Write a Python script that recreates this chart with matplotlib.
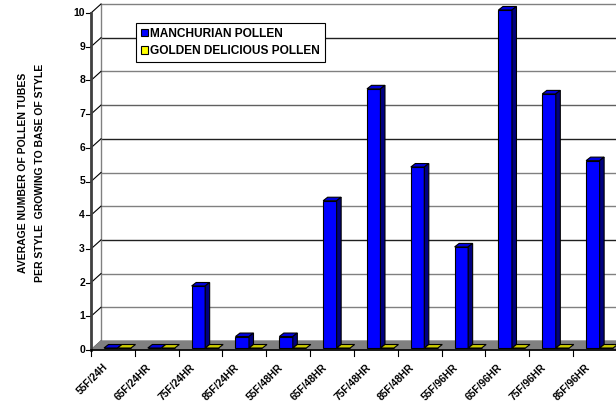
import matplotlib
matplotlib.use('Agg')
import matplotlib.pyplot as plt
from matplotlib.patches import Patch

# data
categories = ['55F/24H', '65F/24HR', '75F/24HR', '85F/24HR', '55F/48HR', '65F/48HR',
              '75F/48HR', '85F/48HR', '55F/96HR', '65F/96HR', '75F/96HR', '85F/96HR']
manchurian = [0, 0, 1.84, 0.34, 0.34, 4.37, 7.69, 5.37, 3.0, 10.03, 7.54, 5.56]
golden = [0, 0, 0, 0, 0, 0, 0, 0, 0, 0, 0, 0]
series_names = ['MANCHURIAN POLLEN', 'GOLDEN DELICIOUS POLLEN']
yticks = [0, 1, 2, 3, 4, 5, 6, 7, 8, 9, 10]
ylabel_lines = ['AVERAGE NUMBER OF POLLEN TUBES', 'PER STYLE  GROWING TO BASE OF STYLE']

plt.rcParams['font.family'] = ['Liberation Sans', 'DejaVu Sans']
plt.rcParams['font.weight'] = 'bold'

W, H = 616, 401
fig = plt.figure(figsize=(W / 100, H / 100), dpi=100)
ax = fig.add_axes([0, 0, 1, 1])
ax.axis('off')

# pixel geometry of the fake 3d plot
x0_px, y0_px = 91, 350          # front origin (pixels from left / top)
sx, sy = 43.83, 33.7            # pixels per category / per unit
ax.set_xlim(-x0_px / sx, (W - x0_px) / sx)
ax.set_ylim(-(H - y0_px) / sy, y0_px / sy)

dx, dy = 10 / sx, 9 / sy        # depth of the wall
n = len(categories)
ymax = 10

# back wall
ax.fill([dx, n + dx, n + dx, dx], [dy, dy, ymax + dy, ymax + dy], color='white', zorder=1)
grid_colors = ['#808080', '#808080', '#202020', '#808080', '#808080', '#202020',
               '#606060', '#808080', '#202020', '#808080']
for v, c in zip(yticks[1:], grid_colors):
    ax.plot([dx, n + dx], [v + dy, v + dy], color=c, lw=1.0, zorder=2)
ax.plot([dx, dx], [dy, ymax + dy], color='#808080', lw=1.0, zorder=2)

# left side connectors and axis
for v in yticks:
    ax.plot([0, dx], [v, v + dy], color='black', lw=0.8, zorder=2)
    ax.plot([-5 / sx, 0], [v, v], color='black', lw=0.8, zorder=3)
    ax.text(-6 / sx, v, str(v), ha='right', va='center', fontsize=7.5, fontweight='bold')
ax.plot([0, 0], [0, ymax], color='#404040', lw=2, zorder=3)

# floor
ax.fill([0, n, n + dx, dx], [0, 0, dy, dy], color='#808080', zorder=2)
ax.plot([0, n], [0, 0], color='black', lw=1.2, zorder=3)
for k in range(n + 1):
    ax.plot([k, k], [0, -6 / sy], color='black', lw=0.8, zorder=3)
for k, lab in enumerate(categories):
    ax.text(k + 0.42, -0.36, lab, rotation=45, ha='right', va='top', fontsize=7.4,
            fontweight='bold')

# bars
bw = 13.5 / sx
off = 12 / sx
bx, by = 1 / sx, 2 / sy            # bar sits slightly behind the front edge
ddx, ddy = 4.5 / sx, 3.5 / sy       # bar depth
styles = [('#0000ff', '#000080', '#0000dd'), ('#ffff00', '#808000', '#cccc00')]
for s, vals in enumerate([manchurian, golden]):
    front, side, top = styles[s]
    lefts = [k + off + s * bw + bx for k in range(n)]
    ax.bar(lefts, vals, width=bw, bottom=by, align='edge', color=front,
           edgecolor='black', linewidth=0.8, zorder=5)
    for l, v in zip(lefts, vals):
        t = by + v
        ax.fill([l, l + ddx, l + bw + ddx, l + bw], [t, t + ddy, t + ddy, t],
                facecolor=top, edgecolor='black', lw=0.8, zorder=5)
        if v > 0:
            ax.fill([l + bw, l + bw + ddx, l + bw + ddx, l + bw],
                    [by, by + ddy, t + ddy, t],
                    facecolor=side, edgecolor='black', lw=0.8, zorder=5)

# y label (two lines)
ax.text(-1.551, 5.25, ylabel_lines[0], rotation=90, ha='center', va='center',
        fontsize=7.5, fontweight='bold')
ax.text(-1.164, 5.25, ylabel_lines[1], rotation=90, ha='center', va='center',
        fontsize=7.5, fontweight='bold')

# legend
handles = [Patch(facecolor=styles[0][0], edgecolor='black', lw=0.8),
           Patch(facecolor=styles[1][0], edgecolor='black', lw=0.8)]
leg = ax.legend(handles, series_names, loc='upper left',
                bbox_to_anchor=(136 / W, 1 - 23 / H), borderaxespad=0,
                fancybox=False, framealpha=1, edgecolor='black',
                prop={'size': 8.6, 'weight': 'bold'},
                handlelength=0.6, handleheight=0.6, handletextpad=0.2,
                borderpad=0.4, labelspacing=0.45)
leg.get_frame().set_linewidth(0.8)
leg.set_zorder(10)

fig.savefig('out.png', dpi=100)
